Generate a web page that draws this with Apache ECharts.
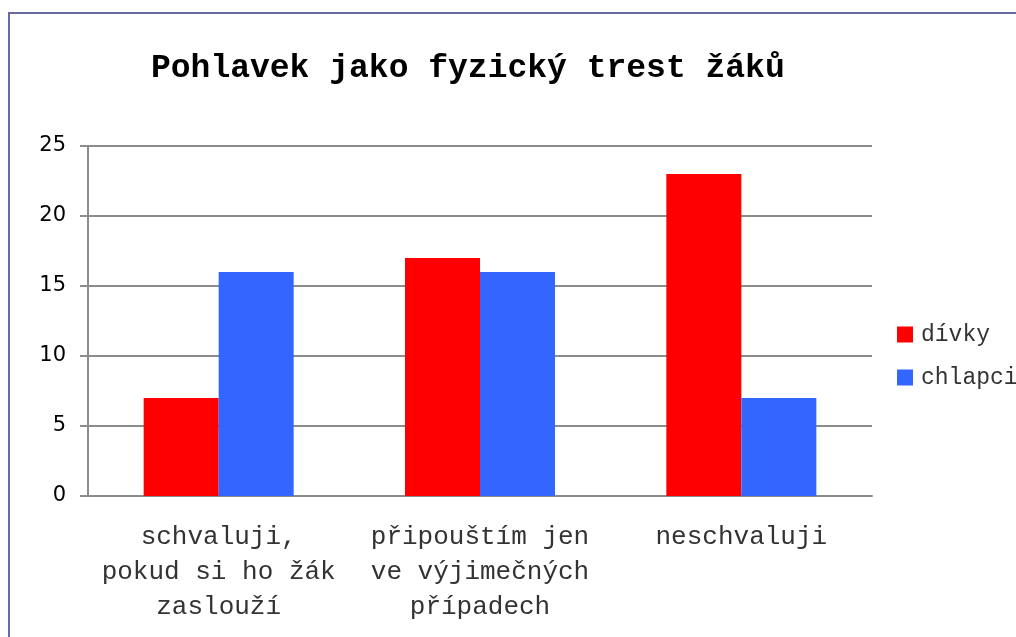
<!DOCTYPE html>
<html>
<head>
<meta charset="utf-8">
<script src="https://cdn.jsdelivr.net/npm/echarts@6/dist/echarts.min.js"></script>
<style>
  html, body { margin: 0; padding: 0; background: #fff; }
  #chart { width: 1016px; height: 637px; }
</style>
</head>
<body>
<div id="chart"></div>
<script>
const categories = ['schvaluji,\npokud si ho žák\nzaslouží', 'připouštím jen\nve výjimečných\npřípadech', 'neschvaluji']
const divky = [7, 17, 23]
const chlapci = [16, 16, 7]
const yTicks = { min: 0, max: 25, interval: 5 }

const mono = '"Liberation Mono", "DejaVu Sans Mono", monospace'
const axisGray = '#8c8c8c'

let chart = echarts.init(document.getElementById('chart'))
chart.setOption({
  animation: false,
  title: {
    text: 'Pohlavek jako fyzický trest žáků',
    left: 146,
    top: 47,
    textStyle: { fontFamily: mono, fontWeight: 'bold', fontSize: 33, color: '#000' }
  },
  graphic: [{
    type: 'rect',
    shape: { x: 9, y: 13, width: 1200, height: 800 },
    style: { fill: 'none', stroke: '#6a6aa4', lineWidth: 2 }
  }],
  legend: {
    orient: 'vertical',
    left: 897,
    top: 323,
    padding: 0,
    itemWidth: 16,
    itemHeight: 16,
    itemGap: 20,
    icon: 'rect',
    textStyle: { fontFamily: mono, fontSize: 23, color: '#333', padding: [0, 0, 0, 3] },
    data: ['dívky', 'chlapci']
  },
  grid: { left: 88, right: 144, top: 146, bottom: 141 },
  xAxis: {
    type: 'category',
    data: categories,
    axisLine: { lineStyle: { color: axisGray, width: 2 } },
    axisTick: { length: 8, lineStyle: { color: axisGray, width: 2 } },
    axisLabel: {
      interval: 0, margin: 24,
      fontFamily: mono, fontSize: 26, lineHeight: 35, color: '#333'
    }
  },
  yAxis: {
    type: 'value',
    min: yTicks.min, max: yTicks.max, interval: yTicks.interval,
    axisLine: { show: true, lineStyle: { color: axisGray, width: 2 } },
    axisTick: { show: true, length: 8, lineStyle: { color: axisGray, width: 2 } },
    splitLine: { lineStyle: { color: axisGray, width: 2 } },
    axisLabel: { margin: 22, fontFamily: '"DejaVu Sans", sans-serif', fontSize: 21, color: '#000' }
  },
  series: [
    { name: 'dívky', type: 'bar', data: divky, barWidth: 75, barGap: '0%', itemStyle: { color: '#ff0000' } },
    { name: 'chlapci', type: 'bar', data: chlapci, barWidth: 75, barGap: '0%', itemStyle: { color: '#3366ff' } }
  ]
})
</script>
</body>
</html>
